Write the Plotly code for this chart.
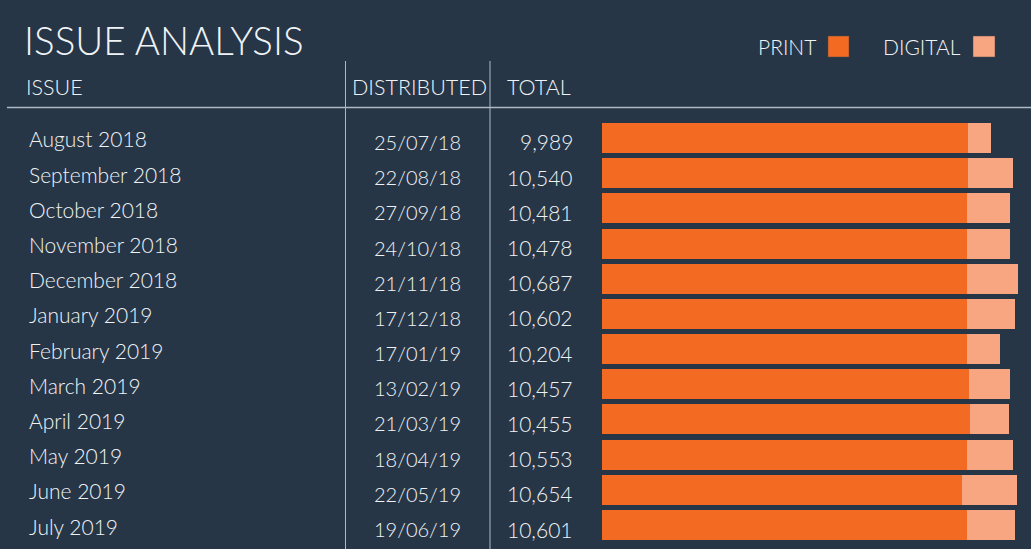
import plotly.graph_objects as go

issues = ["August 2018", "September 2018", "October 2018", "November 2018",
          "December 2018", "January 2019", "February 2019", "March 2019",
          "April 2019", "May 2019", "June 2019", "July 2019"]
distributed = ["25/07/18", "22/08/18", "27/09/18", "24/10/18", "21/11/18", "17/12/18",
               "17/01/19", "13/02/19", "21/03/19", "18/04/19", "22/05/19", "19/06/19"]
totals = [9989, 10540, 10481, 10478, 10687, 10602, 10204, 10457, 10455, 10553, 10654, 10601]
print_copies = [9392, 9392, 9366, 9366, 9366, 9366, 9366, 9417, 9443, 9366, 9238, 9366]
digital_copies = [t - p for t, p in zip(totals, print_copies)]

W, H = 1031, 549
BG = "#263647"
ORANGE = "#F36B23"
PEACH = "#F8A582"
TXT = "#F0F3F5"
LINE = "#AEB8C2"
FONT = "Lato"
WT = 300

rows = list(range(len(issues)))

fig = go.Figure()
fig.add_trace(go.Bar(y=rows, x=print_copies, orientation="h", name="PRINT",
                     marker=dict(color=ORANGE, line=dict(width=0)), width=0.853,
                     hoverinfo="x"))
fig.add_trace(go.Bar(y=rows, x=digital_copies, orientation="h", name="DIGITAL",
                     marker=dict(color=PEACH, line=dict(width=0)), width=0.853,
                     hoverinfo="x"))

def px(x):
    return x / W

def py(y):
    return 1 - y / H

x0 = 602
scale = 25.66
fig.update_layout(
    width=W, height=H, barmode="stack", showlegend=False,
    paper_bgcolor=BG, plot_bgcolor=BG,
    margin=dict(l=0, r=0, t=0, b=0),
    xaxis=dict(domain=[px(x0), 1], range=[0, (W - x0) * scale], visible=False,
               fixedrange=True),
    yaxis=dict(domain=[py(542.6), py(120.4)], range=[11.5, -0.5], visible=False,
               fixedrange=True),
    font=dict(family=FONT, color=TXT),
)

def f(size):
    return dict(size=size, color=TXT, family=FONT, weight=WT)

ann = []
# title
ann.append(dict(text="ISSUE ANALYSIS", x=px(22), y=py(40), xref="paper", yref="paper",
                xanchor="left", yanchor="middle", showarrow=False, font=f(38.5)))
# headers
for label, x in [("ISSUE", 24, ), ("DISTRIBUTED", 350), ("TOTAL", 505)]:
    ann.append(dict(text=label, x=px(x), y=py(87), xref="paper", yref="paper",
                    xanchor="left", yanchor="middle", showarrow=False, font=f(21.5)))
# legend
ann.append(dict(text="PRINT", x=px(818), y=py(46), xref="paper", yref="paper",
                xanchor="right", yanchor="middle", showarrow=False, font=f(21)))
ann.append(dict(text="DIGITAL", x=px(963), y=py(46), xref="paper", yref="paper",
                xanchor="right", yanchor="middle", showarrow=False, font=f(21)))

for i in rows:
    ann.append(dict(text=issues[i], x=px(27), y=i, xref="paper", yref="y",
                    xanchor="left", yanchor="middle", showarrow=False, yshift=-1,
                    font=f(21)))
    ann.append(dict(text=distributed[i], x=px(417), y=i, xref="paper", yref="y",
                    xanchor="center", yanchor="middle", showarrow=False, yshift=-4,
                    font=f(20)))
    ann.append(dict(text=f"{totals[i]:,}", x=px(575), y=i, xref="paper", yref="y",
                    xanchor="right", yanchor="middle", showarrow=False, yshift=-4,
                    font=f(21)))
fig.update_layout(annotations=ann)

shapes = [
    dict(type="line", xref="paper", yref="paper", x0=px(7), x1=1, y0=py(107.5), y1=py(107.5),
         line=dict(color=LINE, width=1.5)),
    dict(type="line", xref="paper", yref="paper", x0=px(345.5), x1=px(345.5), y0=py(61), y1=0,
         line=dict(color=LINE, width=1)),
    dict(type="line", xref="paper", yref="paper", x0=px(490), x1=px(490), y0=py(61), y1=0,
         line=dict(color=LINE, width=1)),
    dict(type="rect", xref="paper", yref="paper", x0=px(828), x1=px(849), y0=py(57), y1=py(36),
         fillcolor=ORANGE, line=dict(color="#4a4a4a", width=0.5)),
    dict(type="rect", xref="paper", yref="paper", x0=px(973), x1=px(995), y0=py(57), y1=py(36),
         fillcolor=PEACH, line=dict(color="#4a4a4a", width=0.5)),
]
fig.update_layout(shapes=shapes)

fig.write_html("out.html")
